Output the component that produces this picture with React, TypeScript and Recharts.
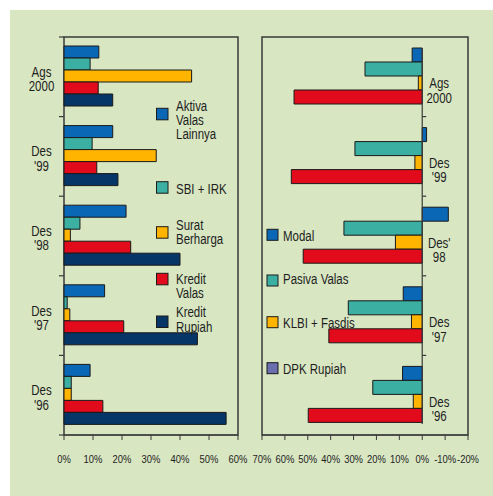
import React from 'react';
import { BarChart, Bar, XAxis, YAxis, ReferenceArea, ReferenceLine } from 'recharts';

// ---------- data ----------
const categories = ["Ags 2000", "Des '99", "Des '98", "Des '97", "Des '96"];
const rightCategoryLabels = ["Ags 2000", "Des '99", "Des' 98", "Des '97", "Des '96"];

const aktivaValasLainnya = [12, 16.8, 21.4, 14, 9];
const sbiIrk = [9, 9.7, 5.5, 1.1, 2.5];
const suratBerharga = [44, 31.8, 2.2, 2, 2.5];
const kreditValas = [11.8, 11.3, 23, 20.6, 13.4];
const kreditRupiah = [16.8, 18.6, 40, 46, 55.9];

const modal = [4.4, -1.9, -11.4, 8.3, 8.6];
const pasivaValas = [25, 29.4, 34.2, 32.3, 21.6];
const klbiFasdis = [1.7, 3.2, 11.7, 4.7, 3.9];
const dpkRupiah = [56, 57.2, 52, 40.8, 49.8];

const leftTicks = [0, 10, 20, 30, 40, 50, 60];
const rightTicks = [70, 60, 50, 40, 30, 20, 10, 0, -10, -20];

const leftSeriesNames = ['Aktiva Valas Lainnya', 'SBI + IRK', 'Surat Berharga', 'Kredit Valas', 'Kredit Rupiah'];
const leftLegendLines = [['Aktiva', 'Valas', 'Lainnya'], ['SBI + IRK'], ['Surat', 'Berharga'], ['Kredit', 'Valas'], ['Kredit', 'Rupiah']];
const rightSeriesNames = ['Modal', 'Pasiva Valas', 'KLBI + Fasdis', 'DPK Rupiah'];

// ---------- styles ----------
const FONT = '"Liberation Sans", Arial, sans-serif';
const SQUEEZE = 0.82;
const BG = '#d8e6c2';
const FRAME = '#3a3a3a';
const TXT = '#1e1e1e';
const BLUE = '#0a67b5';
const TEAL = '#3bb0a2';
const ORANGE = '#ffb400';
const RED = '#e10b1b';
const NAVY = '#063567';
const PURPLE = '#6b6fae';
const BAR_STROKE = '#1a1a1a';

const leftColors = [BLUE, TEAL, ORANGE, RED, NAVY];
const rightBarColors = [BLUE, TEAL, ORANGE, RED];
const rightLegendColors = [BLUE, TEAL, ORANGE, PURPLE];

const leftKeys = ['aktiva', 'sbi', 'surat', 'kvalas', 'krupiah'];
const rightKeys = ['modal', 'pasiva', 'klbi', 'dpk'];

const leftData = categories.map((c, i) => ({
  cat: c,
  aktiva: aktivaValasLainnya[i],
  sbi: sbiIrk[i],
  surat: suratBerharga[i],
  kvalas: kreditValas[i],
  krupiah: kreditRupiah[i],
}));

const rightData = categories.map((c, i) => ({
  cat: c,
  label: rightCategoryLabels[i],
  modal: modal[i],
  pasiva: pasivaValas[i],
  klbi: klbiFasdis[i],
  dpk: dpkRupiah[i],
}));

// ---------- layout ----------
const CH_H = 496;
const M_TOP = 32;
const M_BOTTOM = 31;
const X_AXIS_H = 30;
const Y_PAD = 5;
const PLOT_H = CH_H - M_TOP - M_BOTTOM - X_AXIS_H;
const BAND = (PLOT_H - Y_PAD) / categories.length;
const RIGHT_GAP = 11;

const pct = (v: number) => `${v}%`;

// Condensed text (Arial Narrow look) built from Liberation Sans
const NText = ({ x, y, lines, gap = 14.5, size = 14, anchor = 'start' }: any) => (
  <text
    transform={`translate(${x},${y}) scale(${SQUEEZE},1)`}
    textAnchor={anchor}
    fontSize={size}
    fill={TXT}
    fontFamily={FONT}
  >
    {lines.map((ln: string, j: number) => (
      <tspan key={j} x={0} y={j * gap}>{ln}</tspan>
    ))}
  </text>
);

const XTick = (props: any) => {
  const { x, y, payload } = props;
  return <NText x={x} y={y + 8.3} lines={[pct(payload.value)]} size={11.5} anchor="middle" />;
};

const LeftTick = (props: any) => {
  const { x, y, payload, index } = props;
  const lines = String(payload.value).split(' ');
  const half = BAND / 2;
  return (
    <g>
      <line x1={x - 5} x2={x} y1={y - half} y2={y - half} stroke={FRAME} strokeWidth={1.2} />
      {index === categories.length - 1 && (
        <line x1={x - 5} x2={x} y1={y + half} y2={y + half} stroke={FRAME} strokeWidth={1.2} />
      )}
      <NText x={x - 22.5} y={y} lines={lines} anchor="middle" />
    </g>
  );
};

const ZeroAxis = (props: any) => {
  const { x1, y1, y2 } = props;
  const top = Math.min(y1, y2) + Y_PAD;
  const bottom = Math.max(y1, y2);
  const band = (bottom - top) / rightCategoryLabels.length;
  return (
    <g>
      <line x1={x1} x2={x1} y1={top + RIGHT_GAP} y2={bottom - RIGHT_GAP} stroke={FRAME} strokeWidth={1.2} />
      {rightCategoryLabels.map((lab, i) => {
        const yc = top + band * (i + 0.5);
        return (
          <g key={lab}>
            {i > 0 && (
              <line x1={x1} x2={x1 + 4} y1={top + band * i} y2={top + band * i} stroke={FRAME} strokeWidth={1.2} />
            )}
            <NText x={x1 + 17} y={yc + 11.5} lines={lab.split(' ')} anchor="middle" />
          </g>
        );
      })}
    </g>
  );
};

const leftLegendPos = [
  { sq: 108.3, base: 110.7 },
  { sq: 181.7, base: 194 },
  { sq: 226.7, base: 230 },
  { sq: 273.3, base: 284 },
  { sq: 316, base: 317.3 },
];
const rightLegendPos = [
  { sq: 229.3, base: 240.7 },
  { sq: 275, base: 284.3 },
  { sq: 316.7, base: 327.5 },
  { sq: 362.7, base: 373.5 },
];

export default function App() {
  return (
    <div style={{ position: 'absolute', left: 0, top: 0, width: 493, height: 496, background: '#fff', overflow: 'hidden' }}>
      <div style={{ position: 'absolute', left: 10, top: 10, width: 483, height: 486, background: BG }} />
      <div style={{ position: 'absolute', left: 0, top: 0 }}>
        <BarChart
          width={250}
          height={CH_H}
          layout="vertical"
          data={leftData}
          margin={{ top: M_TOP, right: 12, bottom: M_BOTTOM, left: 0 }}
          barCategoryGap={9}
          barGap={0}
        >
          <XAxis
            type="number"
            domain={[0, 60]}
            ticks={leftTicks}
            interval={0}
            height={X_AXIS_H}
            tickSize={5}
            tickMargin={15}
            axisLine={{ stroke: FRAME }}
            tickLine={{ stroke: FRAME }}
            tick={(p: any) => <XTick {...p} />}
          />
          <YAxis
            type="category"
            dataKey="cat"
            width={64}
            interval={0}
            tickSize={0}
            tickMargin={0}
            axisLine={false}
            tickLine={false}
            padding={{ top: Y_PAD, bottom: 0 }}
            tick={(p: any) => <LeftTick {...p} />}
          />
          <ReferenceArea x1={0} x2={60} fill="none" fillOpacity={0} stroke={FRAME} strokeWidth={1.5} />
          {leftKeys.map((k, i) => (
            <Bar
              key={k}
              dataKey={k}
              name={leftSeriesNames[i]}
              fill={leftColors[i]}
              stroke={BAR_STROKE}
              strokeWidth={1}
              isAnimationActive={false}
            />
          ))}
        </BarChart>
      </div>
      <div style={{ position: 'absolute', left: 250, top: 0 }}>
        <BarChart
          width={243}
          height={CH_H}
          layout="vertical"
          data={rightData}
          margin={{ top: M_TOP, right: 25, bottom: M_BOTTOM, left: 12 }}
          barCategoryGap={RIGHT_GAP}
          barGap={0}
        >
          <XAxis
            type="number"
            domain={[-20, 70]}
            reversed
            ticks={rightTicks}
            interval={0}
            height={X_AXIS_H}
            tickSize={5}
            tickMargin={15}
            axisLine={{ stroke: FRAME }}
            tickLine={{ stroke: FRAME }}
            tick={(p: any) => <XTick {...p} />}
          />
          <YAxis type="category" dataKey="cat" hide padding={{ top: Y_PAD, bottom: 0 }} />
          <ReferenceArea x1={-20} x2={70} fill="none" fillOpacity={0} stroke={FRAME} strokeWidth={1.5} />
          {rightKeys.map((k, i) => (
            <Bar
              key={k}
              dataKey={k}
              name={rightSeriesNames[i]}
              fill={rightBarColors[i]}
              stroke={BAR_STROKE}
              strokeWidth={1}
              isAnimationActive={false}
            />
          ))}
          <ReferenceLine x={0} stroke={FRAME} shape={(p: any) => <ZeroAxis {...p} />} />
        </BarChart>
      </div>
      <svg width={493} height={496} style={{ position: 'absolute', left: 0, top: 0, pointerEvents: 'none' }}>
        {leftLegendPos.map((pos, i) => (
          <g key={leftSeriesNames[i]}>
            <rect x={156.5} y={pos.sq} width={11.5} height={11.5} fill={leftColors[i]} stroke={BAR_STROKE} strokeWidth={1} />
            <NText x={176} y={pos.base} lines={leftLegendLines[i]} gap={14.3} />
          </g>
        ))}
        {rightLegendPos.map((pos, i) => (
          <g key={rightSeriesNames[i]}>
            <rect x={267} y={pos.sq} width={11} height={11} fill={rightLegendColors[i]} stroke={BAR_STROKE} strokeWidth={1} />
            <NText x={283} y={pos.base} lines={[rightSeriesNames[i]]} />
          </g>
        ))}
      </svg>
    </div>
  );
}
